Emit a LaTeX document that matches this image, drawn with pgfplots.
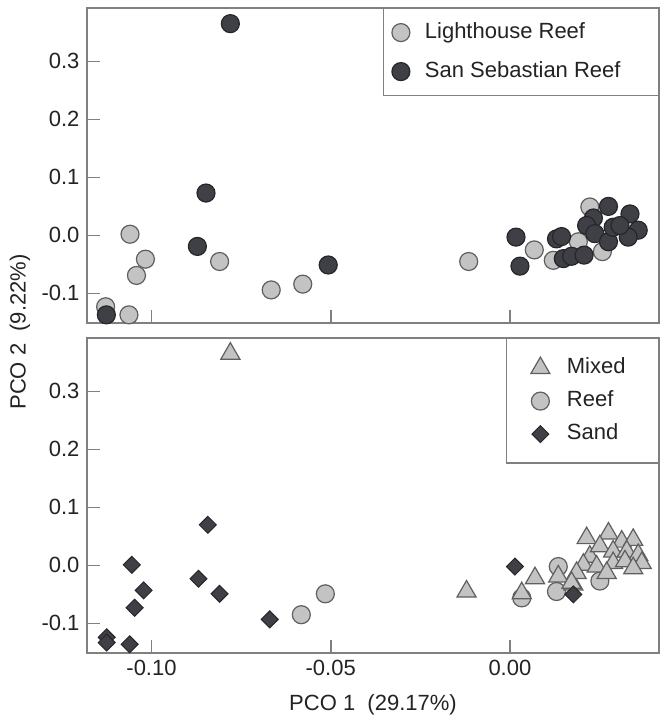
\documentclass[border=0pt]{standalone}
\usepackage{pgfplots}
\pgfplotsset{compat=1.18}
\usepackage{fontspec}
\setmainfont{Liberation Sans}
\definecolor{axgray}{RGB}{128,128,128}
\definecolor{lightfill}{RGB}{195,195,195}
\definecolor{lightedge}{RGB}{95,95,95}
\definecolor{darkfill}{RGB}{62,64,70}
\definecolor{darkedge}{RGB}{38,38,42}
\definecolor{txt}{RGB}{35,35,35}
\pgfplotsset{
  panel/.style={
    scale only axis, width=572pt, height=315pt, anchor=south west,
    xmin=-0.118, xmax=0.0416, ymin=-0.151, ymax=0.392,
    axis line style={axgray, line width=1.6pt},
    tick style={axgray, line width=1.6pt},
    tick align=inside, major tick length=13pt,
    xtick={-0.10,-0.05,0}, ytick={-0.1,0,0.1,0.2,0.3},
    xtick pos=bottom, ytick pos=left,
    clip=false,
    tick label style={font=\fontsize{22}{26}\selectfont, text=txt},
    /pgf/number format/assume math mode=true,
    yticklabel style={/pgf/number format/fixed, /pgf/number format/fixed zerofill, /pgf/number format/precision=1},
    xticklabel style={/pgf/number format/fixed, /pgf/number format/fixed zerofill, /pgf/number format/precision=2},
    legend cell align=left,
  },
  lightc/.style={only marks, mark=*, mark size=9pt, mark options={fill=lightfill, draw=lightedge, line width=1.2pt}},
  darkc/.style={only marks, mark=*, mark size=9pt, mark options={fill=darkfill, draw=darkedge, line width=1.2pt}},
  tri/.style={only marks, mark=triangle*, mark size=11pt, mark options={fill=lightfill, draw=lightedge, line width=1.2pt}},
  dia/.style={only marks, mark=square*, mark size=6pt, mark options={rotate=45, fill=darkfill, draw=darkedge, line width=1pt}},
}
\begin{document}
\fontsize{22}{26}\selectfont
\begin{tikzpicture}
\path[use as bounding box] (0,0) rectangle (660pt,727pt);
% ---------- top panel ----------
\begin{axis}[panel, at={(87pt,404pt)}, xticklabels={},
  legend style={at={(1,1)}, anchor=north east, draw=axgray, line width=1.2pt, fill=white,
    inner xsep=8.5pt, inner ysep=13.5pt, row sep=18pt, font=\fontsize{22}{26}\selectfont, text=txt,
    nodes={inner ysep=0pt, text height=16pt, text depth=5pt},
    /tikz/every odd column/.append style={column sep=13pt}}]
\addplot[lightc] coordinates {
(-0.1060,0.002) (-0.1017,-0.041) (-0.1042,-0.069) (-0.0810,-0.045) (-0.0666,-0.094)
(-0.0578,-0.084) (-0.1128,-0.123) (-0.1063,-0.137) (-0.0115,-0.045)
(0.0068,-0.025) (0.0121,-0.043) (0.0191,-0.011) (0.0223,0.049) (0.0258,-0.028)
};
\addlegendentry{Lighthouse Reef}
\addplot[darkc] coordinates {
(-0.0780,0.365) (-0.0848,0.073) (-0.0872,-0.019) (-0.0507,-0.051) (-0.1126,-0.137)
(0.0017,-0.003) (0.0028,-0.053) (0.0130,-0.006) (0.0144,-0.002) (0.0149,-0.040)
(0.0172,-0.036) (0.0207,-0.034) (0.0275,0.050) (0.0233,0.030) (0.0214,0.017)
(0.0237,0.003) (0.0275,-0.011) (0.0288,0.014) (0.0335,0.037) (0.0358,0.009)
(0.0330,-0.003) (0.0307,0.017)
};
\addlegendentry{\makebox[223pt][l]{San Sebastian Reef}}
\end{axis}
% ---------- bottom panel ----------
\begin{axis}[panel, at={(87pt,74pt)},
  legend style={at={(1,1)}, anchor=north east, draw=axgray, line width=1.2pt, fill=white,
    inner xsep=24.5pt, inner ysep=18.5pt, row sep=12pt, font=\fontsize{22}{26}\selectfont, text=txt,
    nodes={inner ysep=0pt, text height=16pt, text depth=5pt},
    /tikz/every odd column/.append style={column sep=15pt}}]
\addlegendimage{tri}
\addlegendentry{Mixed}
\addlegendimage{lightc}
\addlegendentry{Reef}
\addlegendimage{dia}
\addlegendentry{\makebox[65pt][l]{Sand}}
\addplot[lightc, forget plot] coordinates {
(-0.0582,-0.085) (-0.0515,-0.049) (0.0033,-0.056) (0.0135,-0.002) (0.0130,-0.045) (0.0251,-0.027)
};
\addplot[tri, forget plot] coordinates {
(-0.0780,0.365) (-0.0121,-0.045) (0.0070,-0.022) (0.0033,-0.048) (0.0135,-0.019) (0.0177,-0.033)
(0.0214,0.047) (0.0275,0.055) (0.0312,0.041) (0.0344,0.044) (0.0223,0.015) (0.0251,0.033)
(0.0288,0.024) (0.0326,0.024) (0.0358,0.018) (0.0368,0.004) (0.0205,0.001) (0.0242,-0.002)
(0.0288,0.004) (0.0321,0.007) (0.0344,-0.005) (0.0270,-0.013) (0.0186,-0.013) (0.0172,-0.030)
};
\addplot[dia, forget plot] coordinates {
(-0.0843,0.070) (-0.1055,0.001) (-0.1022,-0.043) (-0.1047,-0.073) (-0.0869,-0.023)
(-0.0810,-0.049) (-0.0670,-0.093) (-0.1125,-0.124) (-0.1125,-0.133) (-0.1061,-0.136)
(0.0014,-0.002) (0.0177,-0.050)
};
\end{axis}
\node[rotate=90, text=txt] at (20pt,395pt) {PCO 2\ \ (9.22\%)};
\node[text=txt] at (373pt,22pt) {PCO 1\ \ (29.17\%)};
\end{tikzpicture}
\end{document}
